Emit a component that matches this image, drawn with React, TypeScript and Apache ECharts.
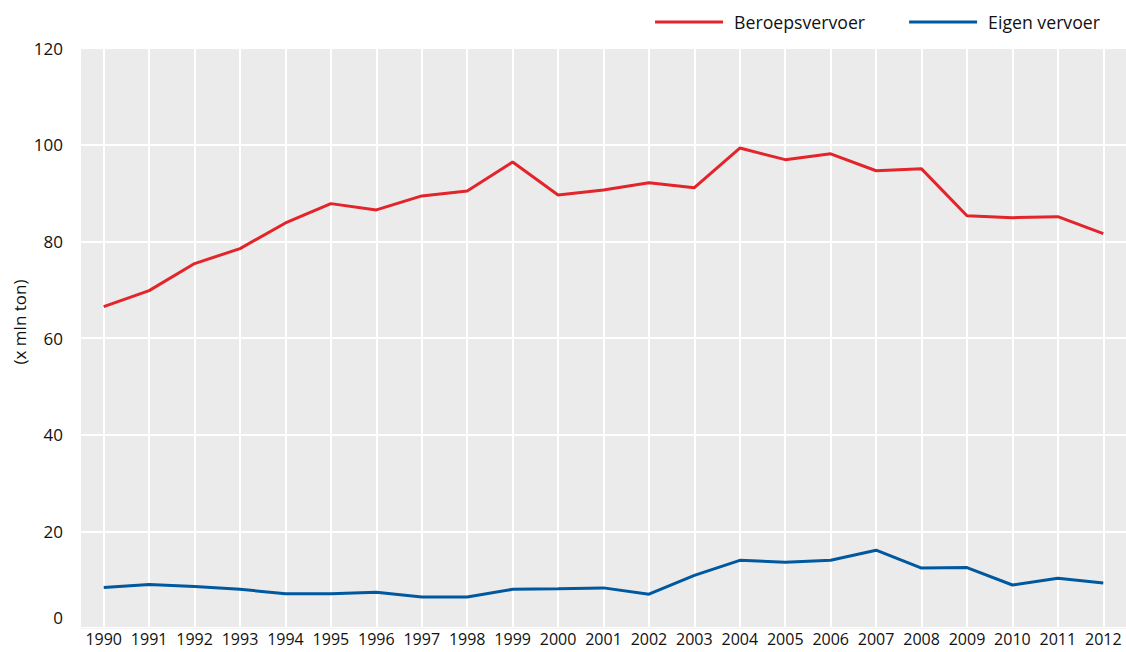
import React, { useEffect, useRef } from "react";
import * as echarts from "echarts";

const years = ["1990","1991","1992","1993","1994","1995","1996","1997","1998","1999","2000","2001","2002","2003","2004","2005","2006","2007","2008","2009","2010","2011","2012"];
const beroepsvervoer = [66.5,69.8,75.4,78.5,83.8,87.8,86.5,89.4,90.4,96.4,89.6,90.6,92.1,91.1,99.3,96.9,98.1,94.6,95.0,85.3,84.9,85.1,81.6];
const eigenVervoer = [8.4,9.0,8.6,8.0,7.1,7.1,7.4,6.4,6.4,8.0,8.1,8.3,7.0,10.9,14.0,13.6,14.0,16.1,12.4,12.5,8.9,10.3,9.3];
const seriesNames = ["Beroepsvervoer", "Eigen vervoer"];
const yAxisName = "(x mln ton)";

const FONT = "'Open Sans', 'Noto Sans', sans-serif";
const TXT = "#111111";

export default function App() {
  const ref = useRef<HTMLDivElement>(null);
  useEffect(() => {
    document.body.style.margin = "0";
    const chart = echarts.init(ref.current!, null, { renderer: "svg" });
    chart.setOption({
      animation: false,
      legend: {
        right: 21,
        top: 8,
        icon: "rect",
        itemWidth: 68,
        itemHeight: 3,
        itemGap: 44,
        textStyle: { fontFamily: FONT, fontSize: 17.7, color: TXT, padding: [0, 0, 0, 6] },
        data: seriesNames,
      },
      graphic: [
        {
          type: "text",
          x: 19,
          y: 322,
          rotation: Math.PI / 2,
          style: { text: yAxisName, fontFamily: FONT, fontSize: 17, fill: TXT, align: "center", verticalAlign: "middle" },
        },
      ],
      grid: { left: 81, right: 0, top: 48, bottom: 24, backgroundColor: "#ebebeb", show: true, borderWidth: 0 },
      xAxis: {
        type: "category",
        data: years,
        boundaryGap: true,
        axisLine: { show: true, lineStyle: { color: "#f2f2f2", width: 1 } },
        axisTick: { show: false },
        axisLabel: { fontFamily: FONT, fontSize: 16, color: TXT, margin: 3, interval: 0 },
        splitLine: { show: true, alignWithLabel: true, interval: 0, lineStyle: { color: "#ffffff", width: 2 } },
      },
      yAxis: {
        type: "value",
        min: 0,
        max: 120,
        interval: 20,
        axisLine: { show: false },
        axisTick: { show: false },
        axisLabel: {
          fontFamily: FONT,
          fontSize: 17,
          color: TXT,
          margin: 18,
          formatter: (v: number) => (v === 0 ? "{z|0}" : String(v)),
          rich: { z: { fontFamily: FONT, fontSize: 17, color: TXT, padding: [0, 0, 22, 0] } },
        },
        splitLine: { show: true, lineStyle: { color: "#ffffff", width: 2 } },
      },
      series: [
        {
          name: seriesNames[0],
          type: "line",
          data: beroepsvervoer,
          symbol: "none",
          lineStyle: { color: "#e3242b", width: 3 },
          itemStyle: { color: "#e3242b" },
        },
        {
          name: seriesNames[1],
          type: "line",
          data: eigenVervoer,
          symbol: "none",
          lineStyle: { color: "#00589f", width: 3 },
          itemStyle: { color: "#00589f" },
        },
      ],
    });
    return () => chart.dispose();
  }, []);
  return <div ref={ref} style={{ width: 1126, height: 652 }} />;
}
